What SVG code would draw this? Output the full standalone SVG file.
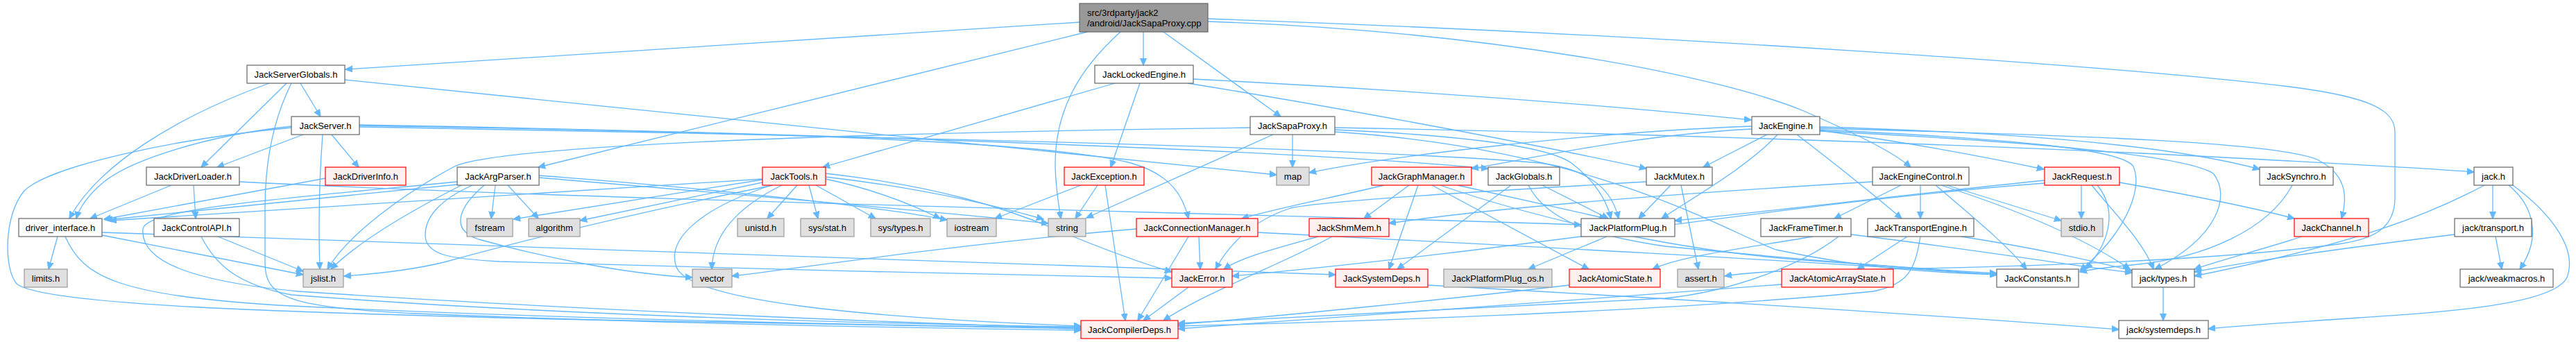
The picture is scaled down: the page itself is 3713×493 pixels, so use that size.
<svg xmlns="http://www.w3.org/2000/svg" width="3713" height="493" viewBox="0 0 3713 493">
<defs>
<marker id="ah" markerWidth="11" markerHeight="10" refX="10" refY="5" orient="auto" markerUnits="userSpaceOnUse"><path d="M0,0.5 L10.5,5 L0,9.5 z" fill="#63B8FF" stroke="#63B8FF" stroke-width="1"/></marker>
</defs>
<style>
.node rect{fill:#ffffff;stroke:#666666;stroke-width:1.2}
.red rect{fill:#FFF0F0;stroke:#FF0000}
.gray rect{fill:#E0E0E0;stroke:#999999}
.root rect{fill:#999999;stroke:#666666}
text{font-family:"Liberation Sans",Arial,Helvetica,sans-serif;font-size:13px;fill:#000000;text-anchor:middle}
.root text{text-anchor:start}
#edges path{fill:none;stroke:#63B8FF;stroke-width:1.3;marker-end:url(#ah)}
</style>
<rect width="3713" height="493" fill="#ffffff"/>
<g id="edges">
<path d="M1556,32 L498,100"/>
<path d="M1677,46 L1846,168"/>
<path d="M1648,46 L1648,94"/>
<path d="M1567,46 L776,241"/>
<path d="M1615,46 C1555,100 1520,160 1521,240 C1522,275 1526,295 1529,315"/>
<path d="M1741,31 C2150,45 2480,110 2600,160 C2680,195 2730,220 2754,241"/>
<path d="M1741,27 C2400,50 3050,95 3300,125 C3420,140 3452,160 3452,190 L3452,285 C3452,330 3420,345 3370,352 C3200,375 2900,386 2600,390 C2550,391 2510,394 2486,398"/>
<path d="M433,120 L462,168"/>
<path d="M413,120 L290,241"/>
<path d="M388,120 C250,170 140,240 100,315"/>
<path d="M420,120 C395,170 382,230 382,300 L382,380 C382,430 420,443 600,452 C1000,468 1350,473 1558,476"/>
<path d="M497,115 L1840,252"/>
<path d="M437,194 L313,241"/>
<path d="M478,194 L517,241"/>
<path d="M465,194 C460,260 459,330 461,388"/>
<path d="M420,182 C300,195 190,230 150,262 C128,280 114,300 110,315"/>
<path d="M420,184 C250,200 70,240 35,275 C5,310 5,390 25,410 C70,440 400,450 800,460 C1200,469 1400,472 1558,474"/>
<path d="M518,181 C900,188 1480,196 1630,235 C1690,252 1706,285 1713,315"/>
<path d="M518,180 C1100,190 1850,215 2145,243"/>
<path d="M518,183 C1200,195 1950,212 2220,235 C2300,245 2325,280 2333,315"/>
<path d="M247,267 L130,315"/>
<path d="M279,267 L282,315"/>
<path d="M345,262 C900,290 1700,305 2279,324"/>
<path d="M469,257 L150,316"/>
<path d="M659,266 L152,317"/>
<path d="M1099,258 L158,318"/>
<path d="M665,267 C600,300 520,345 477,388"/>
<path d="M714,267 L708,315"/>
<path d="M732,267 L776,315"/>
<path d="M698,267 C665,295 645,330 690,345 C780,370 900,395 998,400"/>
<path d="M659,262 C420,285 210,300 206,330 C202,375 270,405 430,420 C800,445 1300,466 1558,473"/>
<path d="M681,267 C640,285 612,310 613,340 C614,368 650,373 720,377 C1000,386 1400,395 1689,401"/>
<path d="M777,256 C1000,275 1300,300 1511,322"/>
<path d="M777,253 C1000,270 1250,295 1365,317"/>
<path d="M1149,267 L1106,315"/>
<path d="M1166,267 L1179,315"/>
<path d="M1176,267 L1262,315"/>
<path d="M1127,267 C1060,300 1027,340 1026,388"/>
<path d="M1099,259 L740,316"/>
<path d="M1099,263 L836,318"/>
<path d="M1114,267 C900,310 760,345 640,378 C590,390 540,395 496,398"/>
<path d="M1112,267 C1010,300 960,345 975,385 C995,435 1250,458 1558,470"/>
<path d="M1190,258 C1270,275 1325,300 1355,315"/>
<path d="M1190,255 C1320,270 1430,295 1504,316"/>
<path d="M1190,250 C1350,268 1450,300 1520,330 C1580,355 1640,378 1689,392"/>
<path d="M1643,120 L1601,241"/>
<path d="M1607,120 L1186,241"/>
<path d="M1720,114 C2000,128 2300,150 2524,173"/>
<path d="M1712,120 C1900,150 2200,205 2373,243"/>
<path d="M1558,267 L1434,315"/>
<path d="M1582,267 L1550,315"/>
<path d="M1593,267 L1622,462"/>
<path d="M1863,194 L1863,241"/>
<path d="M1835,194 L1566,314"/>
<path d="M1802,184 C1200,192 720,210 655,240 C580,280 500,340 472,388"/>
<path d="M1924,187 C2100,195 2230,210 2265,235 C2295,258 2315,285 2322,315"/>
<path d="M1924,190 C2300,215 2480,330 2560,360 C2700,390 2800,393 2878,396"/>
<path d="M1924,184 C2500,195 3000,215 3300,232 C3450,240 3530,245 3566,248"/>
<path d="M2525,182 C2300,190 2000,225 1887,249"/>
<path d="M2525,186 C2350,195 2200,230 2121,243"/>
<path d="M2547,194 L2455,241"/>
<path d="M2562,194 C2520,240 2440,285 2395,315"/>
<path d="M2590,194 C2650,240 2700,280 2741,315"/>
<path d="M2623,188 C2750,205 2870,228 2946,244"/>
<path d="M2623,183 C2950,192 3150,215 3257,244"/>
<path d="M2623,185 C3000,195 3280,205 3340,230 C3380,250 3385,280 3375,315"/>
<path d="M2623,187 C2900,200 3060,215 3075,240 C3090,275 3060,340 2998,390"/>
<path d="M2623,189 C2950,205 3150,225 3190,250 C3215,280 3200,340 3106,388"/>
<path d="M2699,262 C2400,280 2150,300 2002,322"/>
<path d="M2740,267 L2644,315"/>
<path d="M2768,267 L2768,315"/>
<path d="M2806,267 L2971,318"/>
<path d="M2790,267 C2840,310 2890,350 2921,388"/>
<path d="M2798,267 C2900,300 3000,340 3070,388"/>
<path d="M3000,267 L3000,315"/>
<path d="M3023,267 C3050,300 3045,345 3006,388"/>
<path d="M3015,267 C3050,310 3090,350 3104,388"/>
<path d="M2947,260 C2750,280 2550,305 2414,318"/>
<path d="M2947,264 C2600,290 2200,360 1776,398"/>
<path d="M3055,263 C3150,280 3250,300 3307,315"/>
<path d="M3304,267 C3270,330 3180,372 3073,382 C3040,385 3015,388 2998,392"/>
<path d="M3581,267 C3500,310 3400,350 3163,398"/>
<path d="M3593,267 L3593,315"/>
<path d="M3616,267 C3650,295 3665,340 3632,388"/>
<path d="M3622,267 C3680,310 3715,360 3700,400 C3680,440 3520,450 3400,458 C3300,465 3220,470 3183,474"/>
<path d="M3538,338 C3400,355 3250,375 3163,392"/>
<path d="M3597,341 L3606,388"/>
<path d="M3318,341 C3260,360 3200,375 3163,388"/>
<path d="M3118,414 L3118,462"/>
<path d="M2613,341 C2500,360 2420,370 2382,388"/>
<path d="M2650,341 C2600,380 2500,420 2400,430 C2100,445 1850,460 1698,466"/>
<path d="M2668,338 C2850,360 3000,385 3073,393"/>
<path d="M2749,341 L2677,388"/>
<path d="M2768,341 C2760,390 2750,410 2700,420 C2400,450 1900,465 1698,470"/>
<path d="M2827,341 C2950,360 3030,380 3073,390"/>
<path d="M2568,410 C2300,430 1900,460 1698,474"/>
<path d="M2262,411 C2100,430 1850,455 1698,468"/>
<path d="M2058,411 C2400,430 2800,455 3054,475"/>
<path d="M2316,341 L2203,388"/>
<path d="M2408,267 L2362,315"/>
<path d="M2423,267 L2448,388"/>
<path d="M2373,262 C2150,275 1900,290 1860,300 C1800,320 1770,355 1752,388"/>
<path d="M2031,267 L1966,315"/>
<path d="M2044,267 L2002,388"/>
<path d="M2064,267 L2290,388"/>
<path d="M2101,267 L2315,315"/>
<path d="M1995,267 C1920,285 1840,300 1790,315"/>
<path d="M2076,267 C2200,310 2400,360 2600,375 C2750,385 2820,392 2878,396"/>
<path d="M2178,267 L2014,388"/>
<path d="M2223,267 L2318,315"/>
<path d="M2203,267 C2230,320 2300,340 2400,355 C2600,375 2780,388 2878,394"/>
<path d="M1900,341 C1850,355 1790,370 1764,388"/>
<path d="M1920,341 C1850,380 1740,420 1677,462"/>
<path d="M1728,341 L1730,388"/>
<path d="M1713,341 L1640,462"/>
<path d="M1638,330 C1400,350 1200,380 1055,398"/>
<path d="M1813,335 C2100,350 2500,370 2878,396"/>
<path d="M1713,414 L1648,462"/>
<path d="M83,341 L70,388"/>
<path d="M147,339 L437,396"/>
<path d="M147,335 C700,355 1500,380 1925,396"/>
<path d="M94,341 C120,400 170,425 400,440 C800,460 1300,470 1558,472"/>
<path d="M314,341 L437,391"/>
<path d="M290,341 C310,380 340,410 420,425 C800,455 1300,468 1558,471"/>
</g>
<g id="n_root" class="node root"><rect x="1556" y="5" width="185" height="41"/><text x="1567" y="23">src/3rdparty/jack2</text><text x="1567" y="38">/android/JackSapaProxy.cpp</text></g>
<g id="n_JackServerGlobals" class="node"><rect x="356" y="94" width="141" height="26"/><text x="426.5" y="111.5">JackServerGlobals.h</text></g>
<g id="n_JackLockedEngine" class="node"><rect x="1578" y="94" width="142" height="26"/><text x="1649" y="111.5">JackLockedEngine.h</text></g>
<g id="n_JackServer" class="node"><rect x="420" y="168" width="98" height="26"/><text x="469" y="185.5">JackServer.h</text></g>
<g id="n_JackSapaProxy" class="node"><rect x="1802" y="168" width="122" height="26"/><text x="1863" y="185.5">JackSapaProxy.h</text></g>
<g id="n_JackEngine" class="node"><rect x="2525" y="168" width="98" height="26"/><text x="2574" y="185.5">JackEngine.h</text></g>
<g id="n_JackDriverLoader" class="node"><rect x="211" y="241" width="134" height="26"/><text x="278" y="258.5">JackDriverLoader.h</text></g>
<g id="n_JackDriverInfo" class="node red"><rect x="469" y="241" width="116" height="26"/><text x="527" y="258.5">JackDriverInfo.h</text></g>
<g id="n_JackArgParser" class="node"><rect x="659" y="241" width="118" height="26"/><text x="718" y="258.5">JackArgParser.h</text></g>
<g id="n_JackTools" class="node red"><rect x="1099" y="241" width="91" height="26"/><text x="1144.5" y="258.5">JackTools.h</text></g>
<g id="n_JackException" class="node red"><rect x="1534" y="241" width="115" height="26"/><text x="1591.5" y="258.5">JackException.h</text></g>
<g id="n_map" class="node gray"><rect x="1840" y="241" width="47" height="26"/><text x="1863.5" y="258.5">map</text></g>
<g id="n_JackGraphManager" class="node red"><rect x="1977" y="241" width="144" height="26"/><text x="2049" y="258.5">JackGraphManager.h</text></g>
<g id="n_JackGlobals" class="node"><rect x="2145" y="241" width="103" height="26"/><text x="2196.5" y="258.5">JackGlobals.h</text></g>
<g id="n_JackMutex" class="node"><rect x="2373" y="241" width="95" height="26"/><text x="2420.5" y="258.5">JackMutex.h</text></g>
<g id="n_JackEngineControl" class="node"><rect x="2699" y="241" width="139" height="26"/><text x="2768.5" y="258.5">JackEngineControl.h</text></g>
<g id="n_JackRequest" class="node red"><rect x="2947" y="241" width="108" height="26"/><text x="3001" y="258.5">JackRequest.h</text></g>
<g id="n_JackSynchro" class="node"><rect x="3257" y="241" width="106" height="26"/><text x="3310" y="258.5">JackSynchro.h</text></g>
<g id="n_jack" class="node"><rect x="3566" y="241" width="56" height="26"/><text x="3594" y="258.5">jack.h</text></g>
<g id="n_driver_interface" class="node"><rect x="27" y="315" width="120" height="26"/><text x="87" y="332.5">driver_interface.h</text></g>
<g id="n_JackControlAPI" class="node"><rect x="222" y="315" width="123" height="26"/><text x="283.5" y="332.5">JackControlAPI.h</text></g>
<g id="n_fstream" class="node gray"><rect x="673" y="315" width="66" height="26"/><text x="706" y="332.5">fstream</text></g>
<g id="n_algorithm" class="node gray"><rect x="762" y="315" width="74" height="26"/><text x="799" y="332.5">algorithm</text></g>
<g id="n_unistd" class="node gray"><rect x="1063" y="315" width="67" height="26"/><text x="1096.5" y="332.5">unistd.h</text></g>
<g id="n_sys_stat" class="node gray"><rect x="1154" y="315" width="77" height="26"/><text x="1192.5" y="332.5">sys/stat.h</text></g>
<g id="n_sys_types" class="node gray"><rect x="1255" y="315" width="86" height="26"/><text x="1298" y="332.5">sys/types.h</text></g>
<g id="n_iostream" class="node gray"><rect x="1365" y="315" width="71" height="26"/><text x="1400.5" y="332.5">iostream</text></g>
<g id="n_string" class="node gray"><rect x="1511" y="315" width="54" height="26"/><text x="1538" y="332.5">string</text></g>
<g id="n_JackConnectionManager" class="node red"><rect x="1638" y="315" width="175" height="26"/><text x="1725.5" y="332.5">JackConnectionManager.h</text></g>
<g id="n_JackShmMem" class="node red"><rect x="1887" y="315" width="115" height="26"/><text x="1944.5" y="332.5">JackShmMem.h</text></g>
<g id="n_JackPlatformPlug" class="node"><rect x="2279" y="315" width="135" height="26"/><text x="2346.5" y="332.5">JackPlatformPlug.h</text></g>
<g id="n_JackFrameTimer" class="node"><rect x="2538" y="315" width="130" height="26"/><text x="2603" y="332.5">JackFrameTimer.h</text></g>
<g id="n_JackTransportEngine" class="node"><rect x="2692" y="315" width="153" height="26"/><text x="2768.5" y="332.5">JackTransportEngine.h</text></g>
<g id="n_stdio" class="node gray"><rect x="2971" y="315" width="60" height="26"/><text x="3001" y="332.5">stdio.h</text></g>
<g id="n_JackChannel" class="node red"><rect x="3307" y="315" width="107" height="26"/><text x="3360.5" y="332.5">JackChannel.h</text></g>
<g id="n_jack_transport" class="node"><rect x="3538" y="315" width="111" height="26"/><text x="3593.5" y="332.5">jack/transport.h</text></g>
<g id="n_limits" class="node gray"><rect x="35" y="388" width="62" height="26"/><text x="66" y="405.5">limits.h</text></g>
<g id="n_jslist" class="node gray"><rect x="437" y="388" width="58" height="26"/><text x="466" y="405.5">jslist.h</text></g>
<g id="n_vector" class="node gray"><rect x="998" y="388" width="57" height="26"/><text x="1026.5" y="405.5">vector</text></g>
<g id="n_JackError" class="node red"><rect x="1689" y="388" width="87" height="26"/><text x="1732.5" y="405.5">JackError.h</text></g>
<g id="n_JackSystemDeps" class="node red"><rect x="1925" y="388" width="133" height="26"/><text x="1991.5" y="405.5">JackSystemDeps.h</text></g>
<g id="n_JackPlatformPlug_os" class="node gray"><rect x="2081" y="388" width="156" height="26"/><text x="2159" y="405.5">JackPlatformPlug_os.h</text></g>
<g id="n_JackAtomicState" class="node red"><rect x="2262" y="388" width="131" height="26"/><text x="2327.5" y="405.5">JackAtomicState.h</text></g>
<g id="n_assert" class="node gray"><rect x="2418" y="388" width="67" height="26"/><text x="2451.5" y="405.5">assert.h</text></g>
<g id="n_JackAtomicArrayState" class="node red"><rect x="2568" y="388" width="161" height="26"/><text x="2648.5" y="405.5">JackAtomicArrayState.h</text></g>
<g id="n_JackConstants" class="node"><rect x="2878" y="388" width="118" height="26"/><text x="2937" y="405.5">JackConstants.h</text></g>
<g id="n_jack_types" class="node"><rect x="3073" y="388" width="90" height="26"/><text x="3118" y="405.5">jack/types.h</text></g>
<g id="n_jack_weakmacros" class="node"><rect x="3546" y="388" width="134" height="26"/><text x="3613" y="405.5">jack/weakmacros.h</text></g>
<g id="n_JackCompilerDeps" class="node red"><rect x="1558" y="462" width="140" height="26"/><text x="1628" y="479.5">JackCompilerDeps.h</text></g>
<g id="n_jack_systemdeps" class="node"><rect x="3054" y="462" width="129" height="26"/><text x="3118.5" y="479.5">jack/systemdeps.h</text></g>
</svg>
